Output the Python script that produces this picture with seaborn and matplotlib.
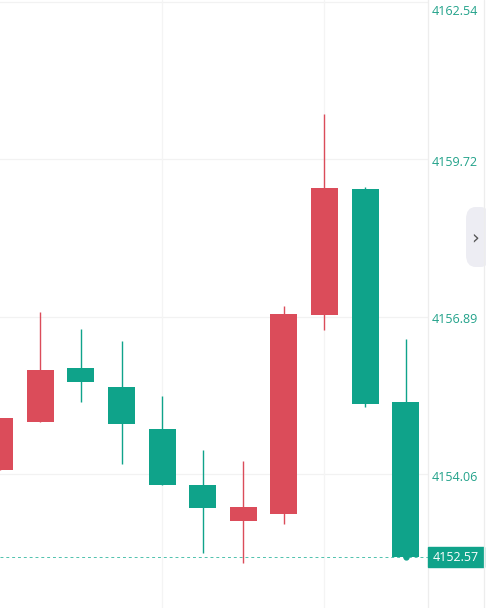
import numpy as np
import pandas as pd
import matplotlib
matplotlib.use("Agg")
import matplotlib.pyplot as plt
import matplotlib.transforms as mtransforms
from matplotlib.patches import Rectangle, FancyBboxPatch
import seaborn as sns

# Candle data, oldest first
opens = [4154.14, 4155.00, 4155.97, 4155.63, 4154.87, 4153.87, 4153.23, 4153.35, 4156.92, 4159.19, 4155.36]
closes = [4155.08, 4155.93, 4155.72, 4154.97, 4153.87, 4153.46, 4153.47, 4156.94, 4159.20, 4155.33, 4152.57]
highs = [4155.08, 4156.98, 4156.67, 4156.46, 4155.47, 4154.50, 4154.30, 4157.08, 4160.53, 4159.22, 4156.50]
lows = [4154.14, 4155.00, 4155.36, 4154.25, 4153.87, 4152.65, 4152.47, 4153.17, 4156.65, 4155.27, 4152.55]

price_ticks = [4154.06, 4156.89, 4159.72, 4162.54]
last_price = 4152.57

up_color = "#DB4C5A"
down_color = "#0FA38A"
label_color = "#22A28A"

df = pd.DataFrame({"open": opens, "close": closes, "high": highs, "low": lows})
df["pos"] = np.arange(len(df))
df["up"] = df["close"] >= df["open"]
df["color"] = np.where(df["up"], up_color, down_color)

sns.set_style("white")
plt.rcParams["font.family"] = ["Open Sans", "DejaVu Sans"]

fig = plt.figure(figsize=(4.86, 6.08), dpi=100)
ax = fig.add_axes([0, 0, 428 / 486, 1])

# grid
for v in price_ticks:
    ax.axhline(v, color="#F2F2F2", lw=0.9, zorder=0)
for p in [4, 8]:
    ax.axvline(p, color="#F4F4F4", lw=0.9, zorder=0)

# wicks and bodies
ax.vlines(df["pos"], df["low"], df["high"], colors=df["color"], lw=1.0, zorder=2)
body_bottom = df[["open", "close"]].min(axis=1)
body_height = (df["close"] - df["open"]).abs()
ax.bar(df["pos"], body_height, bottom=body_bottom, width=0.665,
       color=df["color"], linewidth=0, zorder=3)

# last price line
ax.axhline(last_price, color="#4FC2AD", lw=0.7, ls=(0, (3, 3)), zorder=1)
ax.plot([df["pos"].iloc[-1]], [last_price], marker="o", ms=3.5,
        color=down_color, zorder=4, clip_on=False)

ax.set_xlim(0.007, 10.55)
ax.set_ylim(4151.66, 4162.58)
ax.set_xticks([])

ax.yaxis.tick_right()
ax.set_yticks(price_ticks)
ax.set_yticklabels([f"{v:.2f}" for v in price_ticks])
ax.tick_params(axis="y", length=0, pad=3, labelcolor=label_color, labelsize=9)
for i, lbl in enumerate(ax.get_yticklabels()):
    dy = -8 if i == len(price_ticks) - 1 else -1.5
    lbl.set_transform(lbl.get_transform() +
                      mtransforms.ScaledTranslation(0, dy / 100, fig.dpi_scale_trans))

for s in ["top", "left", "bottom"]:
    ax.spines[s].set_visible(False)
ax.spines["right"].set_color("#EDEDED")
ax.spines["right"].set_linewidth(0.9)

# last price tag
blend = mtransforms.blended_transform_factory(ax.transAxes, ax.transData)
tag_w = 56 / 428
tag_h = 20 / 55.65
ax.add_patch(Rectangle((1.0, last_price - tag_h / 2), tag_w, tag_h,
                       transform=blend, color=down_color, clip_on=False, zorder=5))
ax.text(1.0 + tag_w / 2, last_price, f"{last_price:.2f}", transform=blend,
        color="white", fontsize=9, ha="center", va="center", zorder=6)

# right edge line and side tab
fig.add_artist(plt.Line2D([484 / 486, 484 / 486], [0, 1], color="#EDEDED", lw=0.9))
fig.add_artist(FancyBboxPatch((466 / 486, 1 - 267 / 608), 24 / 486, 60 / 608,
                              boxstyle="round,pad=0,rounding_size=0.02",
                              transform=fig.transFigure, facecolor="#EDEDF3",
                              edgecolor="none"))
fig.text(475 / 486, 1 - 238 / 608, "\u203a", color="#555555", fontsize=14,
         ha="center", va="center", family="DejaVu Sans")

fig.savefig("out.png", dpi=100)
